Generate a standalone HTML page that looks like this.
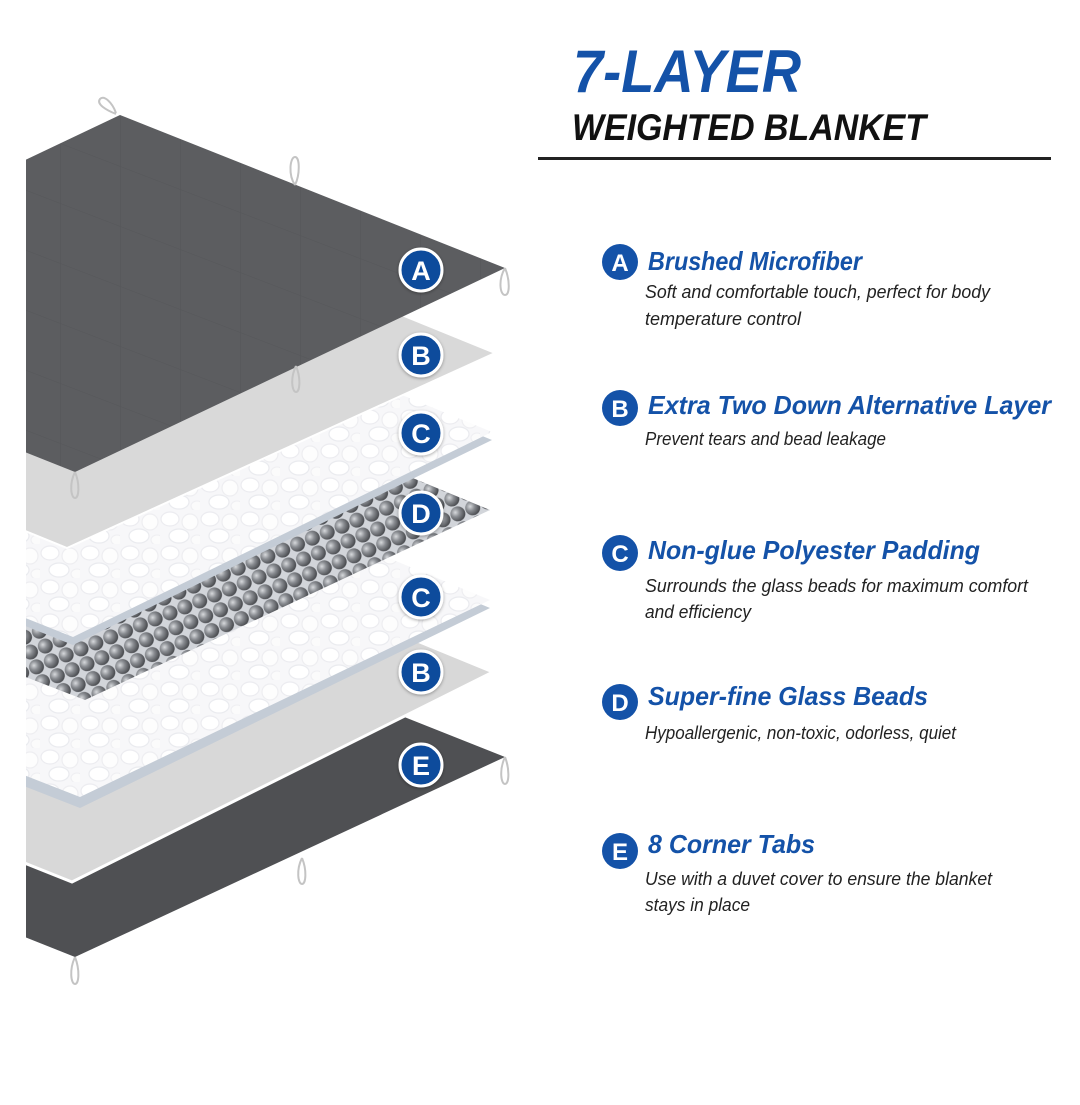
<!DOCTYPE html>
<html><head><meta charset="utf-8"><style>
html,body{margin:0;padding:0;background:#fff;}
svg{display:block;}
</style></head><body>
<svg width="1080" height="1105" viewBox="0 0 1080 1105" xmlns="http://www.w3.org/2000/svg">
<defs>
<clipPath id="cl"><rect x="26" y="0" width="600" height="1105"/></clipPath>
<radialGradient id="bead" cx="0.38" cy="0.35" r="0.65">
<stop offset="0" stop-color="#d8dadd"/><stop offset="0.45" stop-color="#8a8d92"/><stop offset="1" stop-color="#4a4c50"/>
</radialGradient>
<pattern id="beads" width="16" height="16" patternUnits="userSpaceOnUse" patternTransform="rotate(-22)">
<rect width="16" height="16" fill="#d2d5da"/>
<circle cx="8" cy="8" r="7.5" fill="url(#bead)"/>
</pattern>
<pattern id="peb" width="40" height="34" patternUnits="userSpaceOnUse">
<rect width="40" height="34" fill="#f7f7f9"/>
<ellipse cx="10" cy="9" rx="9" ry="7" fill="#fff" stroke="#ececf0" stroke-width="1.2"/>
<ellipse cx="30" cy="12" rx="8" ry="8" fill="#fdfdfd" stroke="#eeeef1" stroke-width="1.2"/>
<ellipse cx="19" cy="26" rx="10" ry="7" fill="#fff" stroke="#eaebef" stroke-width="1.2"/>
<ellipse cx="37" cy="30" rx="6" ry="5" fill="#fbfbfb" stroke="#efeff2" stroke-width="1"/>
</pattern>
<pattern id="grid" width="60" height="60" patternUnits="userSpaceOnUse" patternTransform="skewY(21)">
<rect width="60" height="60" fill="#5c5d60"/>
<path d="M0 0H60M0 0V60" stroke="#56575a" stroke-width="1.2"/>
</pattern>
<filter id="sh" x="-30%" y="-30%" width="160%" height="160%"><feDropShadow dx="0" dy="1" stdDeviation="1.5" flood-color="#000" flood-opacity="0.35"/></filter>
</defs>

<g clip-path="url(#cl)">
<polygon points="120,604 505,757 75,957 -310,804" fill="#4f5053"/>
<polygon points="120,519 493,672 72,882 -310,729" fill="#d8d8d8" stroke="#fff" stroke-width="3"/>
<polygon points="120,455 490,608 80,808 -310,655" fill="#c4ccd6"/>
<polygon points="120,447 490,600 80,797 -310,644" fill="url(#peb)"/>
<polygon points="120,357 490,510 85,700 -310,547" fill="url(#beads)"/>
<polygon points="120,287 492,440 73,645 -310,492" fill="#c4ccd6"/>
<polygon points="120,279 492,432 73,637 -310,484" fill="url(#peb)"/>
<polygon points="120,200 495,353 67,548 -310,395" fill="#d9d9d9" stroke="#fff" stroke-width="2"/>
<polygon points="120,115 505,268 75,472 -310,319" fill="url(#grid)"/>
</g>

<g fill="none" stroke="#c4c4c4" stroke-width="2">
<path d="M116,114 C106,110 96,104 100,99 C104,95 112,102 116,113"/>
<path d="M295,185 C288,175 290,157 295,157 C300,157 300,175 295,185"/>
<path d="M505,268 C498,280 500,295 505,295 C510,295 510,280 505,268"/>
<path d="M296,366 C290,378 292,392 296,392 C300,392 301,378 296,366"/>
<path d="M75,472 C69,484 71,498 75,498 C79,498 80,484 75,472"/>
<path d="M505,757 C499,770 501,784 505,784 C509,784 510,770 505,757"/>
<path d="M302,858 C296,870 298,884 302,884 C306,884 307,870 302,858"/>
<path d="M75,957 C69,970 71,984 75,984 C79,984 80,970 75,957"/>
</g>

<g font-family="Liberation Sans, sans-serif" font-weight="bold" font-size="27" fill="#fff" text-anchor="middle">
<g filter="url(#sh)">
<circle cx="421" cy="270" r="21" fill="#0f4c9c" stroke="#fff" stroke-width="3"/>
<circle cx="421" cy="355" r="21" fill="#0f4c9c" stroke="#fff" stroke-width="3"/>
<circle cx="421" cy="433" r="21" fill="#0f4c9c" stroke="#fff" stroke-width="3"/>
<circle cx="421" cy="513" r="21" fill="#0f4c9c" stroke="#fff" stroke-width="3"/>
<circle cx="421" cy="597" r="21" fill="#0f4c9c" stroke="#fff" stroke-width="3"/>
<circle cx="421" cy="672" r="21" fill="#0f4c9c" stroke="#fff" stroke-width="3"/>
<circle cx="421" cy="765" r="21" fill="#0f4c9c" stroke="#fff" stroke-width="3"/>
</g>
<text x="421" y="280">A</text><text x="421" y="365">B</text><text x="421" y="443">C</text>
<text x="421" y="523">D</text><text x="421" y="607">C</text><text x="421" y="682">B</text><text x="421" y="775">E</text>
</g>

<text x="573" y="92" font-family="Liberation Sans, sans-serif" font-style="italic" font-weight="bold" font-size="60" fill="#1452a8" textLength="228" lengthAdjust="spacingAndGlyphs">7-LAYER</text>
<text x="572" y="140" font-family="Liberation Sans, sans-serif" font-style="italic" font-weight="bold" font-size="37" fill="#111" textLength="354" lengthAdjust="spacingAndGlyphs">WEIGHTED BLANKET</text>
<rect x="538" y="157" width="513" height="3" fill="#222"/>

<g font-family="Liberation Sans, sans-serif" font-weight="bold" font-size="24" fill="#fff" text-anchor="middle">
<circle cx="620" cy="262" r="18" fill="#1452a8"/><text x="620" y="271">A</text>
<circle cx="620" cy="408" r="18" fill="#1452a8"/><text x="620" y="417">B</text>
<circle cx="620" cy="553" r="18" fill="#1452a8"/><text x="620" y="562">C</text>
<circle cx="620" cy="702" r="18" fill="#1452a8"/><text x="620" y="711">D</text>
<circle cx="620" cy="851" r="18" fill="#1452a8"/><text x="620" y="860">E</text>
</g>
<g font-family="Liberation Sans, sans-serif" font-style="italic" font-weight="bold" font-size="26" fill="#1452a8">
<text x="648" y="270" textLength="214" lengthAdjust="spacingAndGlyphs">Brushed Microfiber</text>
<text x="648" y="414" textLength="403" lengthAdjust="spacingAndGlyphs">Extra Two Down Alternative Layer</text>
<text x="648" y="559" textLength="332" lengthAdjust="spacingAndGlyphs">Non-glue Polyester Padding</text>
<text x="648" y="705" textLength="280" lengthAdjust="spacingAndGlyphs">Super-fine Glass Beads</text>
<text x="648" y="853" textLength="167" lengthAdjust="spacingAndGlyphs">8 Corner Tabs</text>
</g>
<g font-family="Liberation Sans, sans-serif" font-style="italic" font-size="18" fill="#222">
<text x="645" y="298" textLength="345" lengthAdjust="spacingAndGlyphs">Soft and comfortable touch, perfect for body</text>
<text x="645" y="325" textLength="156" lengthAdjust="spacingAndGlyphs">temperature control</text>
<text x="645" y="445" textLength="241" lengthAdjust="spacingAndGlyphs">Prevent tears and bead leakage</text>
<text x="645" y="592" textLength="383" lengthAdjust="spacingAndGlyphs">Surrounds the glass beads for maximum comfort</text>
<text x="645" y="618" textLength="106" lengthAdjust="spacingAndGlyphs">and efficiency</text>
<text x="645" y="739" textLength="311" lengthAdjust="spacingAndGlyphs">Hypoallergenic, non-toxic, odorless, quiet</text>
<text x="645" y="885" textLength="347" lengthAdjust="spacingAndGlyphs">Use with a duvet cover to ensure the blanket</text>
<text x="645" y="911" textLength="105" lengthAdjust="spacingAndGlyphs">stays in place</text>
</g>
</svg>
</body></html>
